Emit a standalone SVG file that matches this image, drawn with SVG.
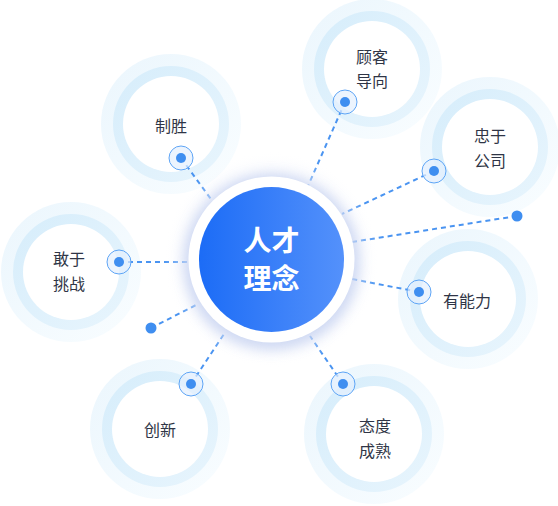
<svg xmlns="http://www.w3.org/2000/svg" width="558" height="506" viewBox="0 0 558 506">
<defs>
<linearGradient id="blue" x1="0" y1="0" x2="1" y2="0">
<stop offset="0" stop-color="#1c6cf6"/>
<stop offset="1" stop-color="#5491fb"/>
</linearGradient>
<radialGradient id="halo" cx="0.5" cy="0.5" r="0.5">
<stop offset="0" stop-color="#d6def5"/>
<stop offset="0.72" stop-color="#dce3f7"/>
<stop offset="1" stop-color="#ffffff" stop-opacity="0"/>
</radialGradient>
<linearGradient id="ring" x1="0" y1="0" x2="1" y2="1">
<stop offset="0" stop-color="#d6edfb"/>
<stop offset="1" stop-color="#e8f5fd"/>
</linearGradient>
<linearGradient id="outer" x1="0" y1="0" x2="1" y2="1">
<stop offset="0" stop-color="#ebf6fd"/>
<stop offset="1" stop-color="#f9fdff"/>
</linearGradient>
<filter id="sh" x="-30%" y="-30%" width="160%" height="160%">
<feGaussianBlur stdDeviation="6"/>
</filter>
</defs>
<style>
.o{fill:url(#outer)}
.r{fill:url(#ring)}
.w{fill:#ffffff}
.t{font-family:"Noto Sans CJK SC","Noto Sans",sans-serif;font-size:16px;fill:#2f3546;text-anchor:middle}
.c{font-family:"Noto Sans CJK SC","Noto Sans",sans-serif;font-size:28px;font-weight:bold;fill:#ffffff;text-anchor:middle}
.ln{stroke:#4a94f1;stroke-width:2;stroke-dasharray:5 4;fill:none}
.tr{fill:#e4f0fd;fill-opacity:0.7;stroke:#5ea5f6;stroke-width:1}
.dt{fill:#3f8ef0}
</style>

<g id="node-zhisheng">
<circle class="o" cx="171" cy="124" r="70"/>
<circle class="r" cx="171" cy="124" r="58"/>
<circle class="w" cx="171" cy="124" r="48"/>
<text class="t" x="171" y="132">制胜</text>
</g>
<g id="node-guke">
<circle class="o" cx="372" cy="69" r="70"/>
<circle class="r" cx="372" cy="69" r="58"/>
<circle class="w" cx="372" cy="69" r="48"/>
<text class="t" x="372" y="63">顾客</text>
<text class="t" x="372" y="87">导向</text>
</g>
<g id="node-zhongyu">
<circle class="o" cx="490" cy="147" r="70"/>
<circle class="r" cx="490" cy="147" r="58"/>
<circle class="w" cx="490" cy="147" r="48"/>
<text class="t" x="490" y="142">忠于</text>
<text class="t" x="490" y="167">公司</text>
</g>
<g id="node-ganyu">
<circle class="o" cx="71" cy="272" r="70"/>
<circle class="r" cx="71" cy="272" r="58"/>
<circle class="w" cx="71" cy="272" r="48"/>
<text class="t" x="69" y="265">敢于</text>
<text class="t" x="69" y="290">挑战</text>
</g>
<g id="node-nengli">
<circle class="o" cx="468" cy="299" r="70"/>
<circle class="r" cx="468" cy="299" r="58"/>
<circle class="w" cx="468" cy="299" r="48"/>
<text class="t" x="467" y="307">有能力</text>
</g>
<g id="node-chuangxin">
<circle class="o" cx="160" cy="429" r="70"/>
<circle class="r" cx="160" cy="429" r="58"/>
<circle class="w" cx="160" cy="429" r="48"/>
<text class="t" x="160" y="436">创新</text>
</g>
<g id="node-taidu">
<circle class="o" cx="374" cy="434" r="70"/>
<circle class="r" cx="374" cy="434" r="58"/>
<circle class="w" cx="374" cy="434" r="48"/>
<text class="t" x="375" y="432">态度</text>
<text class="t" x="375" y="457">成熟</text>
</g>

<g id="connectors">
<line class="ln" x1="181" y1="158" x2="213" y2="202"/>
<line class="ln" x1="345" y1="102" x2="308" y2="186"/>
<line class="ln" x1="434" y1="171" x2="342" y2="214"/>
<line class="ln" x1="517" y1="216" x2="352" y2="242"/>
<line class="ln" x1="419" y1="292" x2="352" y2="279"/>
<line class="ln" x1="343" y1="384" x2="310" y2="336"/>
<line class="ln" x1="191" y1="384" x2="224" y2="334"/>
<line class="ln" x1="151" y1="328" x2="196" y2="305"/>
<line class="ln" x1="119" y1="262" x2="190" y2="262"/>
<circle class="tr" cx="181" cy="158" r="12"/><circle class="dt" cx="181" cy="158" r="5"/>
<circle class="tr" cx="345" cy="102" r="12"/><circle class="dt" cx="345" cy="102" r="5"/>
<circle class="tr" cx="434" cy="171" r="12"/><circle class="dt" cx="434" cy="171" r="5"/>
<circle class="tr" cx="119" cy="262" r="12"/><circle class="dt" cx="119" cy="262" r="5"/>
<circle class="tr" cx="419" cy="292" r="12"/><circle class="dt" cx="419" cy="292" r="5"/>
<circle class="tr" cx="191" cy="384" r="12"/><circle class="dt" cx="191" cy="384" r="5"/>
<circle class="tr" cx="343" cy="384" r="12"/><circle class="dt" cx="343" cy="384" r="5"/>
<circle class="dt" cx="517" cy="216" r="5.5"/>
<circle class="dt" cx="151" cy="328" r="5.5"/>
</g>

<g id="node-center">
<circle cx="271.5" cy="259.5" r="108" fill="url(#halo)" fill-opacity="0.6"/>
<circle cx="271.5" cy="262" r="88" fill="#c4d0f0" filter="url(#sh)" opacity="0.7"/>
<circle cx="271.5" cy="259.5" r="83" fill="#ffffff"/>
<circle cx="271.5" cy="259.5" r="72.5" fill="url(#blue)"/>
<text class="c" x="271.5" y="251">人才</text>
<text class="c" x="271.5" y="289">理念</text>
</g>
</svg>
